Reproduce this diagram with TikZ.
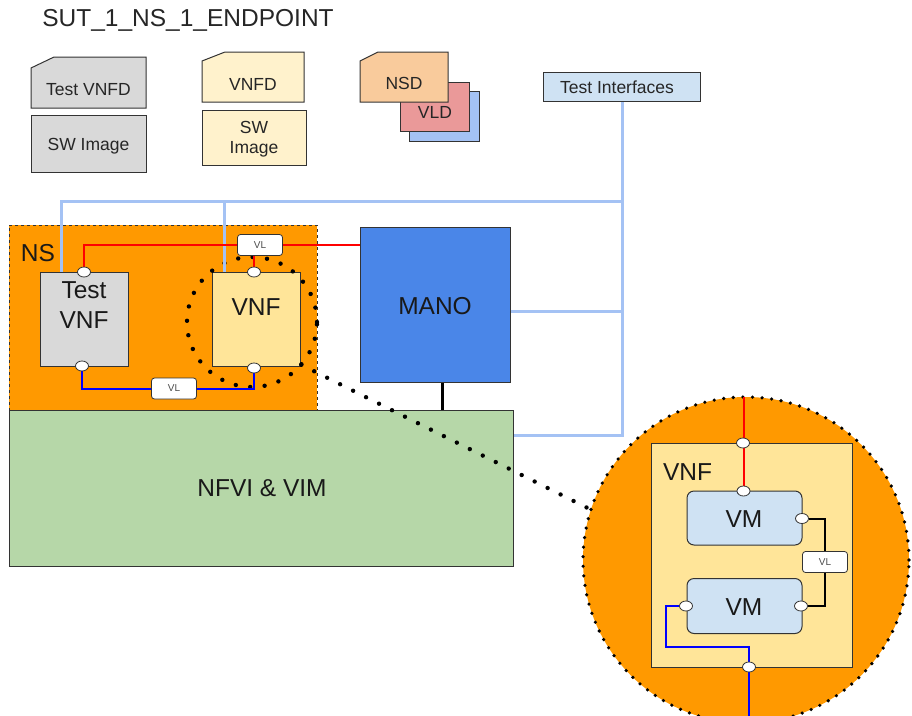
\documentclass[tikz,border=0pt]{standalone}
\usepackage{fontspec}
\setmainfont{Liberation Sans}
\usetikzlibrary{shapes.geometric}
\definecolor{nsorange}{HTML}{FF9900}
\definecolor{grayfill}{HTML}{D9D9D9}
\definecolor{paleyellow}{HTML}{FFF2CC}
\definecolor{vnfyellow}{HTML}{FFE599}
\definecolor{nsdfill}{HTML}{F9CB9C}
\definecolor{vldfill}{HTML}{EA9999}
\definecolor{backblue}{HTML}{A4C2F4}
\definecolor{paleblue}{HTML}{CFE2F3}
\definecolor{manoblue}{HTML}{4A86E8}
\definecolor{nfvigreen}{HTML}{B6D7A8}
\definecolor{edge}{HTML}{333333}
\definecolor{redline}{HTML}{FF0000}
\definecolor{blueline}{HTML}{0000FF}
\definecolor{tiline}{HTML}{A4C2F4}
\pgfdeclarelayer{bg}
\pgfdeclarelayer{lines}
\pgfsetlayers{bg,lines,main}
\tikzset{
  boxnode/.style={draw=edge, line width=1pt, rectangle, inner sep=0pt},
  doc/.style={draw=edge, line width=1pt},
  small/.style={font=\fontsize{17.5}{20}\selectfont, text=black!85, inner sep=0pt},
  big/.style={font=\fontsize{24.5}{30}\selectfont, text=black!90, inner sep=0pt},
  port/.style={ellipse, draw=edge, fill=white, line width=0.8pt, minimum width=13pt, minimum height=10pt, inner sep=0pt},
  vlbox/.style={draw=edge, fill=white, rounded corners=3pt, line width=0.8pt, minimum width=45pt, minimum height=21pt, inner sep=0pt, font=\fontsize{10}{12}\selectfont, text=black!70},
  dotline/.style={line width=4.4pt, line cap=round, dash pattern=on 0pt off 14.5pt},
  bigdots/.style={line width=3.6pt, line cap=round, dash pattern=on 0pt off 9.6pt},
  redw/.style={draw=redline, line width=2pt},
  bluew/.style={draw=blueline, line width=2pt},
  tiw/.style={draw=tiline, line width=3pt},
  blackw/.style={draw=black, line width=2pt},
}
\begin{document}
\begin{tikzpicture}[x=1pt,y=-1pt]
\path[use as bounding box] (0,0) rectangle (912,715);

% title
\node[anchor=base, font=\fontsize{24.5}{28}\selectfont, text=black!85, inner sep=0pt] (title) at (188,26.7) {SUT\_1\_NS\_1\_ENDPOINT};

% descriptor documents
\draw[doc, fill=grayfill] (31,68) -- (54,57) -- (146,57) -- (146,108) -- (31,108) -- cycle;
\node[small, anchor=base] (tvnfd) at (88.5,95) {Test VNFD};
\draw[doc, fill=grayfill] (31,115) rectangle (146,172);
\node[small, anchor=base] (tswimg) at (88.5,150) {SW Image};

\draw[doc, fill=paleyellow] (202,61) -- (225,52) -- (304,52) -- (304,102) -- (202,102) -- cycle;
\node[small, anchor=base] (vnfd) at (253,90) {VNFD};
\draw[doc, fill=paleyellow] (202,110) rectangle (306,165);
\node[small, align=center] (vswimg) at (254,139) {SW\\Image};

\draw[doc, fill=backblue] (409,91) rectangle (479,141);
\draw[doc, fill=vldfill] (400,82) rectangle (469,131);
\node[small, anchor=base] (vld) at (435,118.3) {VLD};
\draw[doc, fill=nsdfill] (360,61) -- (378,52) -- (448,52) -- (448,102) -- (360,102) -- cycle;
\node[small, anchor=base] (nsd) at (404,89.3) {NSD};

\node[boxnode, fill=paleblue, minimum width=157pt, minimum height=29pt] (ti) at (622,86.5) {};
\node[small, anchor=base] (tilabel) at (617,93.3) {Test Interfaces};

% boxes on the background layer
\begin{pgfonlayer}{bg}
\node[boxnode, fill=nsorange, dashed, minimum width=308pt, minimum height=185pt] (ns) at (163,317.5) {};
\node[boxnode, fill=nfvigreen, minimum width=504pt, minimum height=156pt] (nfvi) at (261,488) {};
\node[boxnode, fill=manoblue, minimum width=150pt, minimum height=155pt] (mano) at (435,304.5) {};
\node[boxnode, fill=grayfill, minimum width=88pt, minimum height=94pt] (tvnf) at (84,319) {};
\node[boxnode, fill=vnfyellow, minimum width=88pt, minimum height=94pt] (vnf) at (256,319) {};
\node[circle, minimum size=130pt, inner sep=0pt] (zoomc) at (252,322) {};
\draw[dotline] (zoomc.center) circle [radius=65pt];
\node[circle, fill=nsorange, minimum size=326pt, inner sep=0pt] (bigc) at (746,560) {};
\draw[bigdots] (bigc.center) circle [radius=163pt];
\node[boxnode, fill=vnfyellow, minimum width=201pt, minimum height=224pt] (ivnf) at (751.5,555) {};
\node[boxnode, fill=paleblue, rounded corners=7pt, minimum width=115pt, minimum height=54pt] (vm1) at (744.5,518) {};
\node[boxnode, fill=paleblue, rounded corners=7pt, minimum width=115pt, minimum height=55pt] (vm2) at (744.5,606) {};
\end{pgfonlayer}

% labels
\node[big, anchor=base] (nslabel) at (38,261) {NS};
\node[big, anchor=base] (nfvilabel) at (262,496.7) {NFVI \& VIM};
\node[big, anchor=base] (manolabel) at (435,314) {MANO};
\node[big, anchor=base] (tvnftest) at (84,298.3) {Test};
\node[big, anchor=base] (tvnfvnf) at (84,328.3) {VNF};
\node[big, anchor=base] (vnflabel) at (256,315) {VNF};
\node[big, anchor=base] (ivnflabel) at (687.5,480) {VNF};
\node[big, anchor=base] (vm1label) at (744,527.3) {VM};
\node[big, anchor=base] (vm2label) at (744,615) {VM};

% ports and VL boxes
\node[port] (tp1) at (84,272) {};
\node[port] (tp2) at (82,366) {};
\node[port] (vp1) at (254,272) {};
\node[port] (vp2) at (254,368) {};
\node[vlbox] (vl1) at (260,245) {VL};
\node[vlbox] (vl2) at (174,388.5) {VL};
\node[port] (ptop) at (743,443) {};
\node[port] (vm1t) at (743.5,491) {};
\node[port] (vm1r) at (802,518.5) {};
\node[port] (vm2r) at (801,606) {};
\node[port] (vm2l) at (686,606) {};
\node[port] (pbot) at (749,667) {};
\node[vlbox] (vl3) at (825,562) {VL};

\coordinate (j1) at (622,201);
\coordinate (j2) at (622,311);
\coordinate (j3) at (622,435);
\coordinate (bc) at (666,647);
\coordinate (bend) at (749,720);

\begin{pgfonlayer}{lines}
% zoom connector
\draw[dotline] (zoomc.-41) -- (bigc.162);
% light blue test interface lines
\draw[tiw] (ti.south) -- (j3) -- (j3 -| nfvi.east);
\draw[tiw] (j1) -| ([xshift=-23pt]tvnf.north);
\draw[tiw] ([xshift=-32pt]vnf.north) -- ([xshift=-32pt]vnf.north |- j1);
\draw[tiw] (mano.east |- j2) -- (j2);
% red
\draw[redw] (tp1.north) |- (vl1.west);
\draw[redw] (vl1.east) -- (vl1.east -| mano.west);
\draw[redw] (vp1.north) -- (vp1.north |- vl1.south);
% blue
\draw[bluew] (tp2.south) |- (vl2.west);
\draw[bluew] (vl2.east) -| (vp2.south);
% MANO-NFVI
\draw[black, line width=3pt] ([xshift=7pt]mano.south) -- ([xshift=7pt]mano.south |- nfvi.north);
% inner lines
\draw[redw] (vm1t |- bigc.north) -- (vm1t.north);
\draw[blackw] (vm1r.east) -| (vl3.north);
\draw[blackw] (vl3.south) |- (vm2r.east);
\draw[bluew] (vm2l.west) -| (bc) -| (pbot.north);
\draw[bluew] (pbot.south) -- (bend);
\end{pgfonlayer}
\end{tikzpicture}
\end{document}
